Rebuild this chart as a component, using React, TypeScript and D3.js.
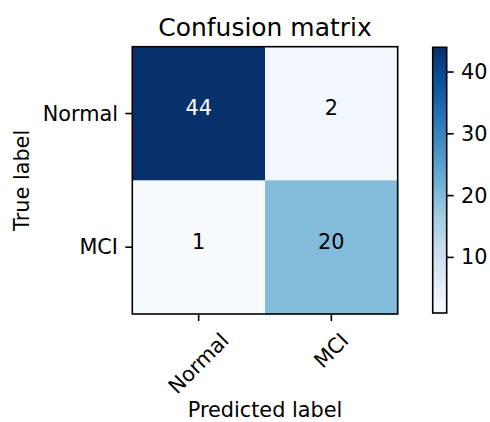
import React, { useEffect, useRef } from "react";
import * as d3 from "d3";

// Class names, shared by both axes
const classes = ["Normal", "MCI"];
// Confusion counts, one row per true label
const normalRow = [44, 2];
const mciRow = [1, 20];
const colorbarTicks = [10, 20, 30, 40];

// ColorBrewer "Blues" stops, linearly interpolated
const bluesStops = [
  "#f7fbff", "#deebf7", "#c6dbef", "#9ecae1", "#6baed6",
  "#4292c6", "#2171b5", "#08519c", "#08306b",
];

const W = 490;
const H = 422;
const FONT = "DejaVu Sans, sans-serif";
const FS = 20.8;
const plot = { left: 132.3, right: 397.7, top: 46.7, bottom: 314 };
const cbar = { left: 432.7, right: 446.7, top: 47.3, bottom: 313 };
const TICK = 7;
const PAD = 7.3;
const LW = 1.6;

export default function App() {
  const ref = useRef<SVGSVGElement | null>(null);

  useEffect(() => {
    const svg = d3.select(ref.current);
    svg.selectAll("*").remove();

    const rows = [normalRow, mciRow];
    const cells = rows.flatMap((row, i) =>
      row.map((v, j) => ({ trueLabel: classes[i], predLabel: classes[j], v }))
    );
    const all = cells.map((c) => c.v);
    const vmin = d3.min(all) as number;
    const vmax = d3.max(all) as number;

    const t = d3.scaleLinear().domain(d3.range(bluesStops.length).map((k) => k / (bluesStops.length - 1))).range(bluesStops as any).interpolate(d3.interpolateRgb as any);
    const norm = d3.scaleLinear().domain([vmin, vmax]).range([0, 1]).clamp(true);
    const color = (v: number) => t(norm(v)) as unknown as string;

    const x = d3.scaleBand().domain(classes).range([plot.left, plot.right]).padding(0);
    const y = d3.scaleBand().domain(classes).range([plot.top, plot.bottom]).padding(0);

    // Heatmap cells
    svg.append("g")
      .selectAll("rect")
      .data(cells)
      .join("rect")
      .attr("x", (d) => x(d.predLabel)!)
      .attr("y", (d) => y(d.trueLabel)!)
      .attr("width", x.bandwidth() + 0.5)
      .attr("height", y.bandwidth() + 0.5)
      .attr("fill", (d) => color(d.v));

    // Cell annotations (bbox-centred, so digits sit a little above the middle)
    const thresh = vmax / 2;
    svg.append("g")
      .selectAll("text")
      .data(cells)
      .join("text")
      .attr("x", (d) => x(d.predLabel)! + x.bandwidth() / 2)
      .attr("y", (d) => y(d.trueLabel)! + y.bandwidth() / 2 + FS * 0.08)
      .attr("text-anchor", "middle")
      .attr("font-family", FONT)
      .attr("font-size", FS)
      .attr("fill", (d) => (d.v > thresh ? "#ffffff" : "#000000"))
      .text((d) => String(d.v));

    // Frame
    svg.append("rect")
      .attr("x", plot.left).attr("y", plot.top)
      .attr("width", plot.right - plot.left).attr("height", plot.bottom - plot.top)
      .attr("fill", "none").attr("stroke", "#000").attr("stroke-width", LW);

    // Y ticks and labels
    const yg = svg.append("g");
    classes.forEach((c) => {
      const cy = y(c)! + y.bandwidth() / 2;
      yg.append("line")
        .attr("x1", plot.left - TICK).attr("x2", plot.left)
        .attr("y1", cy).attr("y2", cy)
        .attr("stroke", "#000").attr("stroke-width", LW);
      yg.append("text")
        .attr("x", plot.left - TICK - PAD)
        .attr("y", cy)
        .attr("text-anchor", "end")
        .attr("dominant-baseline", "central")
        .attr("font-family", FONT).attr("font-size", FS)
        .text(c);
    });

    // X ticks and rotated labels
    const xg = svg.append("g");
    const labelTop = plot.bottom + TICK + PAD;
    classes.forEach((c) => {
      const cx = x(c)! + x.bandwidth() / 2;
      xg.append("line")
        .attr("x1", cx).attr("x2", cx)
        .attr("y1", plot.bottom).attr("y2", plot.bottom + TICK)
        .attr("stroke", "#000").attr("stroke-width", LW);
      const txt = xg.append("text")
        .attr("text-anchor", "middle")
        .attr("dominant-baseline", "central")
        .attr("font-family", FONT).attr("font-size", FS)
        .text(c);
      const w = (txt.node() as SVGTextElement).getComputedTextLength();
      const h = FS * 1.17;
      const side = (w + h) * Math.SQRT1_2;
      const cy = labelTop + side / 2;
      txt.attr("transform", `translate(${cx},${cy}) rotate(-45)`);
    });

    // Axis titles
    svg.append("text")
      .attr("x", (plot.left + plot.right) / 2).attr("y", 417)
      .attr("text-anchor", "middle")
      .attr("font-family", FONT).attr("font-size", FS)
      .text("Predicted label");
    svg.append("text")
      .attr("transform", `translate(28.5,${(plot.top + plot.bottom) / 2}) rotate(-90)`)
      .attr("text-anchor", "middle")
      .attr("font-family", FONT).attr("font-size", FS)
      .text("True label");

    // Title
    svg.append("text")
      .attr("x", (plot.left + plot.right) / 2).attr("y", 35.7)
      .attr("text-anchor", "middle")
      .attr("font-family", FONT).attr("font-size", FS * 1.2)
      .text("Confusion matrix");

    // Colorbar
    const cy = d3.scaleLinear().domain([vmin, vmax]).range([cbar.bottom, cbar.top]);
    const defs = svg.append("defs");
    const grad = defs.append("linearGradient")
      .attr("id", "cbar-grad")
      .attr("x1", 0).attr("y1", 1).attr("x2", 0).attr("y2", 0);
    bluesStops.forEach((col, k) => {
      grad.append("stop")
        .attr("offset", k / (bluesStops.length - 1))
        .attr("stop-color", col);
    });
    svg.append("rect")
      .attr("x", cbar.left).attr("y", cbar.top)
      .attr("width", cbar.right - cbar.left).attr("height", cbar.bottom - cbar.top)
      .attr("fill", "url(#cbar-grad)")
      .attr("stroke", "#000").attr("stroke-width", LW);

    const cg = svg.append("g");
    colorbarTicks.forEach((v) => {
      const ty = cy(v);
      cg.append("line")
        .attr("x1", cbar.right).attr("x2", cbar.right + TICK)
        .attr("y1", ty).attr("y2", ty)
        .attr("stroke", "#000").attr("stroke-width", LW);
      cg.append("text")
        .attr("x", cbar.right + TICK + PAD)
        .attr("y", ty)
        .attr("dominant-baseline", "central")
        .attr("font-family", FONT).attr("font-size", FS)
        .text(String(v));
    });
  }, []);

  return (
    <svg
      ref={ref}
      width={W}
      height={H}
      style={{ position: "absolute", left: 0, top: 0, background: "#fff" }}
    />
  );
}
